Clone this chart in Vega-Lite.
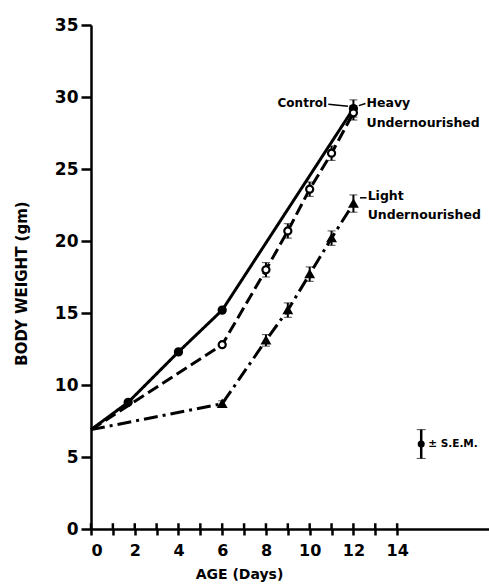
{
  "$schema": "https://vega.github.io/schema/vega-lite/v6.json",
  "width": 398,
  "height": 504,
  "autosize": {"type": "none"},
  "padding": {"left": 91, "top": 25, "right": 0, "bottom": 55},
  "background": "white",
  "config": {
    "view": {"stroke": null},
    "font": "DejaVu Sans",
    "axis": {"domainColor": "black", "tickColor": "black", "labelColor": "black", "titleColor": "black", "domainWidth": 2.5, "tickWidth": 2.5, "grid": false, "labelFont": "DejaVu Sans", "labelFontWeight": "bold", "titleFont": "DejaVu Sans", "titleFontWeight": "bold"}
  },
  "datasets": {
    "series": [
      {"group": "Control", "age": 0, "weight": 6.9, "sem": 0},
      {"group": "Control", "age": 1.7, "weight": 8.8, "sem": 0},
      {"group": "Control", "age": 4, "weight": 12.3, "sem": 0},
      {"group": "Control", "age": 6, "weight": 15.2, "sem": 0},
      {"group": "Control", "age": 12, "weight": 29.2, "sem": 0.6},
      {"group": "Heavy", "age": 0, "weight": 6.9, "sem": 0},
      {"group": "Heavy", "age": 6, "weight": 12.8, "sem": 0},
      {"group": "Heavy", "age": 8, "weight": 18.0, "sem": 0.5},
      {"group": "Heavy", "age": 9, "weight": 20.7, "sem": 0.5},
      {"group": "Heavy", "age": 10, "weight": 23.6, "sem": 0.5},
      {"group": "Heavy", "age": 11, "weight": 26.1, "sem": 0.5},
      {"group": "Heavy", "age": 12, "weight": 28.9, "sem": 0.5},
      {"group": "Light", "age": 0, "weight": 6.9, "sem": 0},
      {"group": "Light", "age": 6, "weight": 8.7, "sem": 0.2},
      {"group": "Light", "age": 8, "weight": 13.1, "sem": 0.4},
      {"group": "Light", "age": 9, "weight": 15.2, "sem": 0.5},
      {"group": "Light", "age": 10, "weight": 17.7, "sem": 0.5},
      {"group": "Light", "age": 11, "weight": 20.2, "sem": 0.5},
      {"group": "Light", "age": 12, "weight": 22.6, "sem": 0.6}
    ],
    "xticks": [
      {"age": 0, "weight": 0, "weight2": 0.4}, {"age": 1, "weight": 0, "weight2": 0.4},
      {"age": 2, "weight": 0, "weight2": 0.4}, {"age": 3, "weight": 0, "weight2": 0.4},
      {"age": 4, "weight": 0, "weight2": 0.4}, {"age": 5, "weight": 0, "weight2": 0.4},
      {"age": 6, "weight": 0, "weight2": 0.4}, {"age": 7, "weight": 0, "weight2": 0.4},
      {"age": 8, "weight": 0, "weight2": 0.4}, {"age": 9, "weight": 0, "weight2": 0.4},
      {"age": 10, "weight": 0, "weight2": 0.4}, {"age": 11, "weight": 0, "weight2": 0.4},
      {"age": 12, "weight": 0, "weight2": 0.4}, {"age": 13, "weight": 0, "weight2": 0.4},
      {"age": 14, "weight": 0, "weight2": 0.4}
    ],
    "labelsRight": [
      {"age": 10.8, "weight": 29.6, "text": "Control"}
    ],
    "labelsLeft": [
      {"age": 12.6, "weight": 29.6, "text": "Heavy"},
      {"age": 12.6, "weight": 28.2, "text": "Undernourished"},
      {"age": 12.65, "weight": 23.1, "text": "Light"},
      {"age": 12.65, "weight": 21.8, "text": "Undernourished"}
    ],
    "leaders": [
      {"age": 10.85, "age2": 11.75, "weight": 29.5, "weight2": 29.35},
      {"age": 12.25, "age2": 12.55, "weight": 29.4, "weight2": 29.55},
      {"age": 12.3, "age2": 12.6, "weight": 23.0, "weight2": 23.0}
    ],
    "sem": [
      {"age": 15.1, "weight": 5.9, "sem": 1.0, "text": "± S.E.M."}
    ]
  },
  "encoding": {
    "x": {"field": "age", "type": "quantitative", "scale": {"domain": [0, 18.2], "nice": false},
      "axis": {"values": [0,1,2,3,4,5,6,7,8,9,10,11,12,13,14], "labelExpr": "datum.value % 2 == 0 ? datum.label : ''", "tickSize": 6, "labelPadding": 7, "labelFontSize": 16, "title": "AGE  (Days)", "titleFontSize": 14, "titleX": 148, "titleY": 38, "titleBaseline": "top", "titleAnchor": "start", "titleAlign": "center"}},
    "y": {"field": "weight", "type": "quantitative", "scale": {"domain": [0, 35], "nice": false},
      "axis": {"values": [0,5,10,15,20,25,30,35], "tickSize": 10, "labelPadding": 3, "labelFontSize": 17, "title": "BODY WEIGHT  (gm)", "titleFontSize": 15, "titleX": -70, "titleY": 258, "titleAngle": -90, "titleBaseline": "middle", "titleAlign": "center"}}
  },
  "layer": [
    {
      "data": {"name": "series"},
      "mark": {"type": "line", "strokeWidth": 3, "color": "black"},
      "encoding": {
        "detail": {"field": "group"},
        "strokeDash": {"field": "group", "type": "nominal", "legend": null,
          "scale": {"domain": ["Control", "Heavy", "Light"], "range": [[1, 0], [12, 5], [14, 5, 3, 5]]}}
      }
    },
    {
      "data": {"name": "xticks"},
      "mark": {"type": "rule", "strokeWidth": 2.5, "color": "black"},
      "encoding": {
        "y2": {"field": "weight2"}
      }
    },
    {
      "data": {"name": "series"},
      "transform": [{"filter": "datum.sem > 0"}],
      "mark": {"type": "errorbar", "ticks": {"size": 8, "strokeWidth": 2, "color": "black"}, "rule": {"strokeWidth": 2, "color": "black"}},
      "encoding": {
        "yError": {"field": "sem"}
      }
    },
    {
      "data": {"name": "series"},
      "transform": [{"filter": "datum.age > 0"}],
      "mark": {"type": "point", "filled": false, "stroke": "black", "strokeWidth": 2.2, "size": 50, "opacity": 1},
      "encoding": {
        "shape": {"field": "group", "type": "nominal", "legend": null, "scale": {"domain": ["Control", "Heavy", "Light"], "range": ["circle", "circle", "triangle-up"]}},
        "fill": {"field": "group", "type": "nominal", "legend": null, "scale": {"domain": ["Control", "Heavy", "Light"], "range": ["black", "white", "black"]}}
      }
    },
    {
      "data": {"name": "leaders"},
      "mark": {"type": "rule", "strokeWidth": 1.5, "color": "black"},
      "encoding": {
        "x2": {"field": "age2"},
        "y2": {"field": "weight2"}
      }
    },
    {
      "data": {"name": "labelsRight"},
      "mark": {"type": "text", "fontSize": 12, "fontWeight": "bold", "color": "black", "baseline": "middle", "align": "right"},
      "encoding": {
        "text": {"field": "text"}
      }
    },
    {
      "data": {"name": "labelsLeft"},
      "mark": {"type": "text", "fontSize": 12.5, "fontWeight": "bold", "color": "black", "baseline": "middle", "align": "left"},
      "encoding": {
        "text": {"field": "text"}
      }
    },
    {
      "data": {"name": "sem"},
      "mark": {"type": "errorbar", "ticks": {"size": 9, "strokeWidth": 2, "color": "black"}, "rule": {"strokeWidth": 2.5, "color": "black"}},
      "encoding": {
        "yError": {"field": "sem"}
      }
    },
    {
      "data": {"name": "sem"},
      "mark": {"type": "point", "filled": true, "color": "black", "size": 50, "opacity": 1}
    },
    {
      "data": {"name": "sem"},
      "mark": {"type": "text", "fontSize": 10.5, "fontWeight": "bold", "color": "black", "align": "left", "baseline": "middle", "dx": 7},
      "encoding": {
        "text": {"field": "text"}
      }
    }
  ]
}
